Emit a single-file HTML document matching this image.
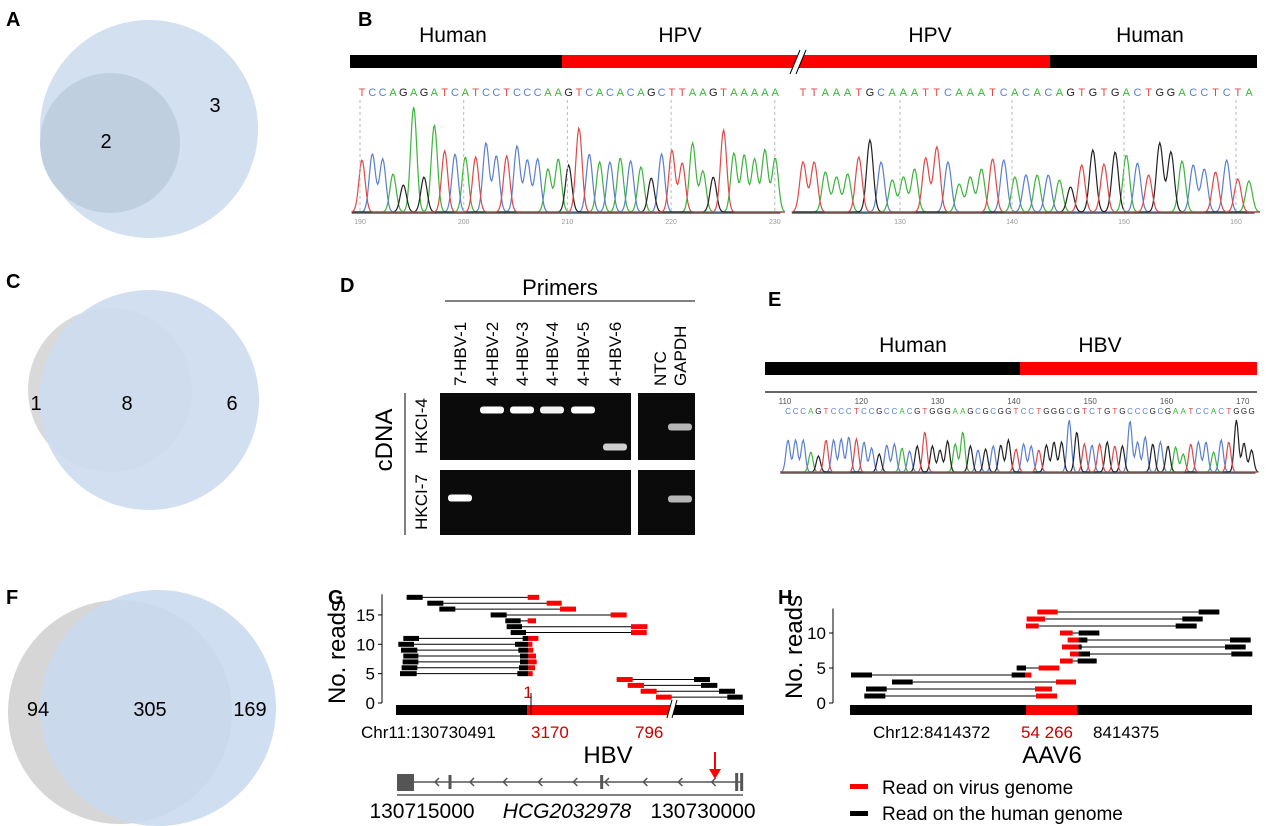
<!DOCTYPE html>
<html><head><meta charset="utf-8"><style>
body{margin:0;background:#fff;width:1280px;height:826px;overflow:hidden}
svg{display:block;font-family:"Liberation Sans",sans-serif}
</style></head><body>
<svg id="s" width="1280" height="826" viewBox="0 0 1280 826">
<g font-weight="bold" font-size="20">
<text x="6" y="26">A</text><text x="358" y="26">B</text><text x="6" y="288">C</text><text x="340" y="292">D</text>
<text x="768" y="306">E</text><text x="6" y="604">F</text><text x="328" y="604">G</text><text x="778" y="604">H</text></g>
<g>
<circle cx="149" cy="129" r="109" fill="#d3e0f0"/><circle cx="110" cy="143" r="70" fill="#bfcfdf"/>
<text x="106" y="148" font-size="20" text-anchor="middle">2</text><text x="215" y="112" font-size="20" text-anchor="middle">3</text></g>
<g>
<circle cx="110" cy="390" r="82" fill="#d9d9d9"/><circle cx="149" cy="400" r="110" fill="#cddcef" opacity="0.9"/>
<text x="36" y="410" font-size="20" text-anchor="middle">1</text><text x="127" y="410" font-size="20" text-anchor="middle">8</text><text x="232" y="410" font-size="20" text-anchor="middle">6</text></g>
<g>
<circle cx="120" cy="712" r="112" fill="#d6d6d6"/><circle cx="158" cy="708" r="118" fill="#c8d9ee" opacity="0.88"/>
<text x="38" y="716" font-size="20" text-anchor="middle">94</text><text x="150" y="716" font-size="20" text-anchor="middle">305</text><text x="250" y="716" font-size="20" text-anchor="middle">169</text></g>

<g>
<rect x="350" y="55" width="212" height="13" fill="#000"/><rect x="562" y="55" width="488" height="13" fill="#f00"/><rect x="1050" y="55" width="207" height="13" fill="#000"/>
<polygon points="790,74 800,50 806,50 796,74" fill="#fff"/><line x1="790" y1="74" x2="800" y2="50" stroke="#000"/><line x1="796" y1="74" x2="806" y2="50" stroke="#000"/>
<g font-size="21" text-anchor="middle"><text x="453" y="42">Human</text><text x="680" y="42">HPV</text><text x="930" y="42">HPV</text><text x="1150" y="42">Human</text></g></g>
<g id="chromB"></g>

<g>
<text x="560" y="295" font-size="22" text-anchor="middle">Primers</text>
<line x1="445" y1="301" x2="695" y2="301" stroke="#000"/>
<g id="lanelabels" font-size="17"></g>
<rect x="440" y="393" width="191" height="67" fill="#0b0b0b"/><rect x="638" y="393" width="57" height="67" fill="#0b0b0b"/>
<rect x="440" y="470" width="191" height="65" fill="#0b0b0b"/><rect x="638" y="470" width="57" height="65" fill="#0b0b0b"/>
<g id="bands"></g>
<line x1="405" y1="393" x2="405" y2="535" stroke="#000"/>
<text transform="translate(392,440) rotate(-90)" font-size="24" text-anchor="middle">cDNA</text>
<text transform="translate(427,426) rotate(-90)" font-size="17" text-anchor="middle">HKCI-4</text>
<text transform="translate(427,502) rotate(-90)" font-size="17" text-anchor="middle">HKCI-7</text></g>

<g>
<rect x="765" y="362" width="255" height="13" fill="#000"/><rect x="1020" y="362" width="237" height="13" fill="#f00"/>
<text x="913" y="352" font-size="21" text-anchor="middle">Human</text><text x="1100" y="352" font-size="21" text-anchor="middle">HBV</text></g>
<g id="chromE"></g>

<g id="plotG"></g>
<g id="plotH"></g>
</svg>
<script>
const NS="http://www.w3.org/2000/svg";
function mk(t,a,p){const e=document.createElementNS(NS,t);for(const k in a)e.setAttribute(k,a[k]);p.appendChild(e);return e;}
const COL={A:"#3cb43c",C:"#5a7ed0",G:"#222",T:"#e04848"};
// chromatogram data
const seqB1="TCCAGAGATCATCCTCCCAAGTCACACAGCTTAAGTAAAAA";
const htB1=[52,58,53,38,27,105,35,87,61,58,55,55,69,56,56,66,52,53,43,53,47,84,58,50,50,54,51,45,34,58,62,49,69,41,35,82,59,57,53,62,54];
const seqB2="TTAAATGCAAATTCAAATCACACAGTGTGACTGGACCTCTA";
const htB2=[50,50,40,35,38,55,72,50,32,35,43,54,65,50,28,35,43,53,52,35,37,37,37,32,25,47,62,48,60,57,49,37,69,60,51,47,43,40,52,33,31];
const ticksB1=[190,200,210,220,230];
const ticksB2=[130,140,150,160];
const seqE="CCCAGTCCCTCCGCCACGTGGGAAGCGCGGTCCTGGGCGTCTGTGCCCGCGAATCCACTGGG";
const htE=[32,32,32,20,16,32,32,33,35,33,30,24,18,27,28,24,21,26,40,26,22,31,28,40,26,22,23,26,27,32,23,28,26,22,27,30,30,52,40,28,27,28,30,26,26,51,30,35,28,30,26,25,18,28,30,30,20,32,30,52,29,22];
const ticksE=[110,120,130,140,150,160,170];

function chrom(g,seq,ht,x0,dx,base,letterY,fs,sig){
  const lines={A:"",C:"",G:"",T:""};
  for(const b in lines){
    let d="";
    for(let x=x0-dx;x<=x0+dx*seq.length;x+=1){
      let y=0;
      for(let i=0;i<seq.length;i++){if(seq[i]===b){const px=x0+i*dx;y+=ht[i]*Math.exp(-((x-px)**2)/(2*sig*sig));}}
      d+=(d?"L":"M")+x.toFixed(1)+","+(base-y-1).toFixed(1);
    }
    const p=mk("path",{d:d,fill:"none",stroke:COL[b],"stroke-width":1.2},g);
    
    
  }
  mk("line",{x1:x0-dx,y1:base,x2:x0+dx*seq.length-dx/2,y2:base,stroke:"#555","stroke-width":1.5},g);
  for(let i=0;i<seq.length;i++){
    const t=mk("text",{x:x0+i*dx,y:letterY,"font-size":fs,fill:COL[seq[i]],"text-anchor":"middle"},g);t.textContent=seq[i];
    
    
  }
}
const gB=document.getElementById("chromB");
chrom(gB,seqB1,htB1,362,10.33,213,96,11,3.1);
chrom(gB,seqB2,htB2,803,11.15,213,96,11,3.3);
ticksB1.forEach((v,i)=>{const x=360+(v-190)*10.37;mk("line",{x1:x,y1:100,x2:x,y2:213,stroke:"#bbb","stroke-dasharray":"3,3"},gB);const t=mk("text",{x:x,y:224,"font-size":7,fill:"#999","text-anchor":"middle"},gB);t.textContent=v;});
ticksB2.forEach((v,i)=>{const x=900+(v-130)*11.2;mk("line",{x1:x,y1:100,x2:x,y2:213,stroke:"#bbb","stroke-dasharray":"3,3"},gB);const t=mk("text",{x:x,y:224,"font-size":7,fill:"#999","text-anchor":"middle"},gB);t.textContent=v;});
const gE=document.getElementById("chromE");
mk("line",{x1:765,y1:392,x2:1257,y2:392,stroke:"#666","stroke-width":2},gE);
ticksE.forEach(v=>{const x=785+(v-110)*7.63;const t=mk("text",{x:x,y:404,"font-size":8,fill:"#555","text-anchor":"middle"},gE);t.textContent=v;});
chrom(gE,seqE,htE,788,7.6,473,414,8,2.1);

// gel
const lanes=["7-HBV-1","4-HBV-2","4-HBV-3","4-HBV-4","4-HBV-5","4-HBV-6","NTC","GAPDH"];
const laneX=[460,492,522,552,583,615,660,680];
const bandTop=[null,410,410,410,410,447,null,427];
const bandBot=[498,null,null,null,null,null,null,499];
const bandI=[1,1,1,0.95,1,0.8,0,0.7];
const ll=document.getElementById("lanelabels"),bg=document.getElementById("bands");
lanes.forEach((n,i)=>{const t=mk("text",{transform:`translate(${laneX[i]+6},386) rotate(-90)`},ll);t.textContent=n;
 [bandTop[i],bandBot[i]].forEach(y=>{if(y==null)return;const r=mk("rect",{x:laneX[i]-12,y:y-3.5,width:24,height:7,rx:3,fill:"#fff",opacity:bandI[i]},bg);});});

// reads plots
const readsGy=[18,17,16,15,14,13,12,11,10,9,8,7,6,5,4,3,2,1];
const readsGblocks=[
[[320,368,"k"],[683,717,"r"]],[[382,430,"k"],[740,785,"r"]],[[418,466,"k"],[780,828,"r"]],[[572,620,"k"],[932,980,"r"]],
[[616,662,"k"],[683,708,"r"]],[[620,666,"k"],[993,1042,"r"]],[[632,678,"k"],[993,1040,"r"]],
[[310,357,"k"],[668,685,"k"],[685,715,"r"]],[[295,342,"k"],[645,685,"k"],[685,697,"r"]],[[303,352,"k"],[655,685,"k"],[685,700,"r"]],
[[310,355,"k"],[660,685,"k"],[685,708,"r"]],[[308,355,"k"],[660,685,"k"],[685,710,"r"]],[[305,352,"k"],[657,685,"k"],[685,705,"r"]],
[[300,350,"k"],[652,685,"k"],[685,698,"r"]],
[[950,998,"r"],[1182,1230,"k"]],[[983,1032,"r"],[1203,1252,"k"]],[[1022,1070,"r"],[1257,1305,"k"]],[[1068,1115,"r"],[1282,1328,"k"]]];
const ticksGy=[0,5,10,15];
const readsHy=[13,12,11,10,9,8,7,6,5,4,3,2,1];
const readsHblocks=[
[[772,833,"r"],[1256,1318,"k"]],[[740,795,"r"],[1207,1268,"k"]],[[738,776,"r"],[1187,1250,"k"]],[[840,878,"r"],[896,958,"k"]],
[[863,896,"r"],[896,922,"k"],[1350,1412,"k"]],[[846,896,"r"],[896,905,"k"],[1335,1397,"k"]],[[870,896,"r"],[896,930,"k"],[1354,1417,"k"]],
[[840,878,"r"],[893,950,"k"]],[[710,738,"k"],[776,838,"r"]],[[213,276,"k"],[695,735,"k"],[735,754,"r"]],
[[336,398,"k"],[828,888,"r"]],[[258,320,"k"],[765,816,"r"]],[[253,316,"k"],[768,831,"r"]]];
const ticksHy=[0,5,10];

function readsPlot(g,ys,blocks,ticks,sx,sy,axisX,yTop,yMax){
  mk("line",{x1:axisX,y1:sy(yMax),x2:axisX,y2:sy(0),stroke:"#000","stroke-width":1},g);
  ticks.forEach(v=>{mk("line",{x1:axisX-4,y1:sy(v),x2:axisX,y2:sy(v),stroke:"#000"},g);const t=mk("text",{x:axisX-7,y:sy(v)+6,"font-size":17,"text-anchor":"end"},g);t.textContent=v;});
  ys.forEach((y,i)=>{const b=blocks[i];const a=Math.min(...b.map(q=>q[0])),e=Math.max(...b.map(q=>q[1]));
    const l=mk("line",{x1:sx(a),y1:sy(y),x2:sx(e),y2:sy(y),stroke:"#000","stroke-width":1},g);
    
    b.forEach(q=>{const r=mk("rect",{x:sx(q[0]),y:sy(y)-2.5,width:sx(q[1])-sx(q[0]),height:5,fill:q[2]==="r"?"#f00":"#000"},g);
      });});
}
const gG=document.getElementById("plotG");
const sxG=v=>300+v/3, syG=v=>703-v*5.87;
readsPlot(gG,readsGy,readsGblocks,ticksGy,sxG,syG,382,0,18.5);
mk("rect",{x:396,y:705,width:131,height:10,fill:"#000"},gG);mk("rect",{x:527,y:705,width:145,height:10,fill:"#f00"},gG);mk("rect",{x:672,y:705,width:72,height:10,fill:"#000"},gG);
mk("polygon",{points:"667,718 672,700 677,700 672,718",fill:"#fff"},gG);
mk("line",{x1:667,y1:718,x2:672,y2:700,stroke:"#000"},gG);mk("line",{x1:672,y1:718,x2:677,y2:700,stroke:"#000"},gG);
mk("line",{x1:531,y1:693,x2:531,y2:715,stroke:"#000"},gG);
[["1",528,698,"#c00",17,"middle"],["Chr11:130730491",361,738,"#000",17,"start"],["3170",531,738,"#c00",17,"start"],["796",635,738,"#c00",17,"start"],["HBV",608,763,"#000",24,"middle"]].forEach(d=>{const t=mk("text",{x:d[1],y:d[2],fill:d[3],"font-size":d[4],"text-anchor":d[5]},gG);t.textContent=d[0];});
const yl=mk("text",{transform:"translate(345,652) rotate(-90)","font-size":24,"text-anchor":"middle"},gG);yl.textContent="No. reads";
mk("line",{x1:397,y1:782,x2:743,y2:782,stroke:"#555","stroke-width":1.5},gG);
mk("rect",{x:397,y:774,width:17,height:17,fill:"#555"},gG);
[[450,7],[905,7],[1310,9],[1325,9]].forEach(q=>mk("rect",{x:300+q[0]/3-1.5,y:782-q[1],width:3,height:q[1]*2,fill:"#555"},gG));
[405,510,610,715,820,915,1030,1135,1235].forEach(z=>{const x=300+z/3;mk("path",{d:`M${x+4},${778} L${x},${782} L${x+4},${786}`,fill:"none",stroke:"#555","stroke-width":1.5},gG);});
mk("line",{x1:715,y1:752,x2:715,y2:770,stroke:"#f00","stroke-width":2},gG);mk("polygon",{points:"709,769 721,769 715,779",fill:"#f00"},gG);
mk("line",{x1:397,y1:795,x2:743,y2:795,stroke:"#000"},gG);
[[422,"130715000",""],[567,"HCG2032978","italic"],[703,"130730000",""]].forEach(d=>{const t=mk("text",{x:d[0],y:818,"font-size":21,"text-anchor":"middle","font-style":d[2]||"normal"},gG);t.textContent=d[1];});

const gH=document.getElementById("plotH");
const sxH=v=>780+v/3, syH=v=>703-v*7;
readsPlot(gH,readsHy,readsHblocks,ticksHy,sxH,syH,833,0,13.5);
mk("rect",{x:850,y:705,width:176,height:10,fill:"#000"},gH);mk("rect",{x:1026,y:705,width:51,height:10,fill:"#f00"},gH);mk("rect",{x:1077,y:705,width:175,height:10,fill:"#000"},gH);
[["Chr12:8414372",873,738,"#000",17,"start"],["54 266",1021,738,"#c00",17,"start"],["8414375",1093,738,"#000",17,"start"],["AAV6",1052,763,"#000",24,"middle"],
 ["Read on virus genome",882,794,"#000",19,"start"],["Read on the human genome",882,820,"#000",19,"start"]].forEach(d=>{const t=mk("text",{x:d[1],y:d[2],fill:d[3],"font-size":d[4],"text-anchor":d[5]},gH);t.textContent=d[0];});
mk("rect",{x:850,y:784,width:18,height:5,fill:"#f00"},gH);mk("rect",{x:850,y:811,width:18,height:5,fill:"#000"},gH);
const yl2=mk("text",{transform:"translate(802,647) rotate(-90)","font-size":24,"text-anchor":"middle"},gH);yl2.textContent="No. reads";
</script>
</body></html>
